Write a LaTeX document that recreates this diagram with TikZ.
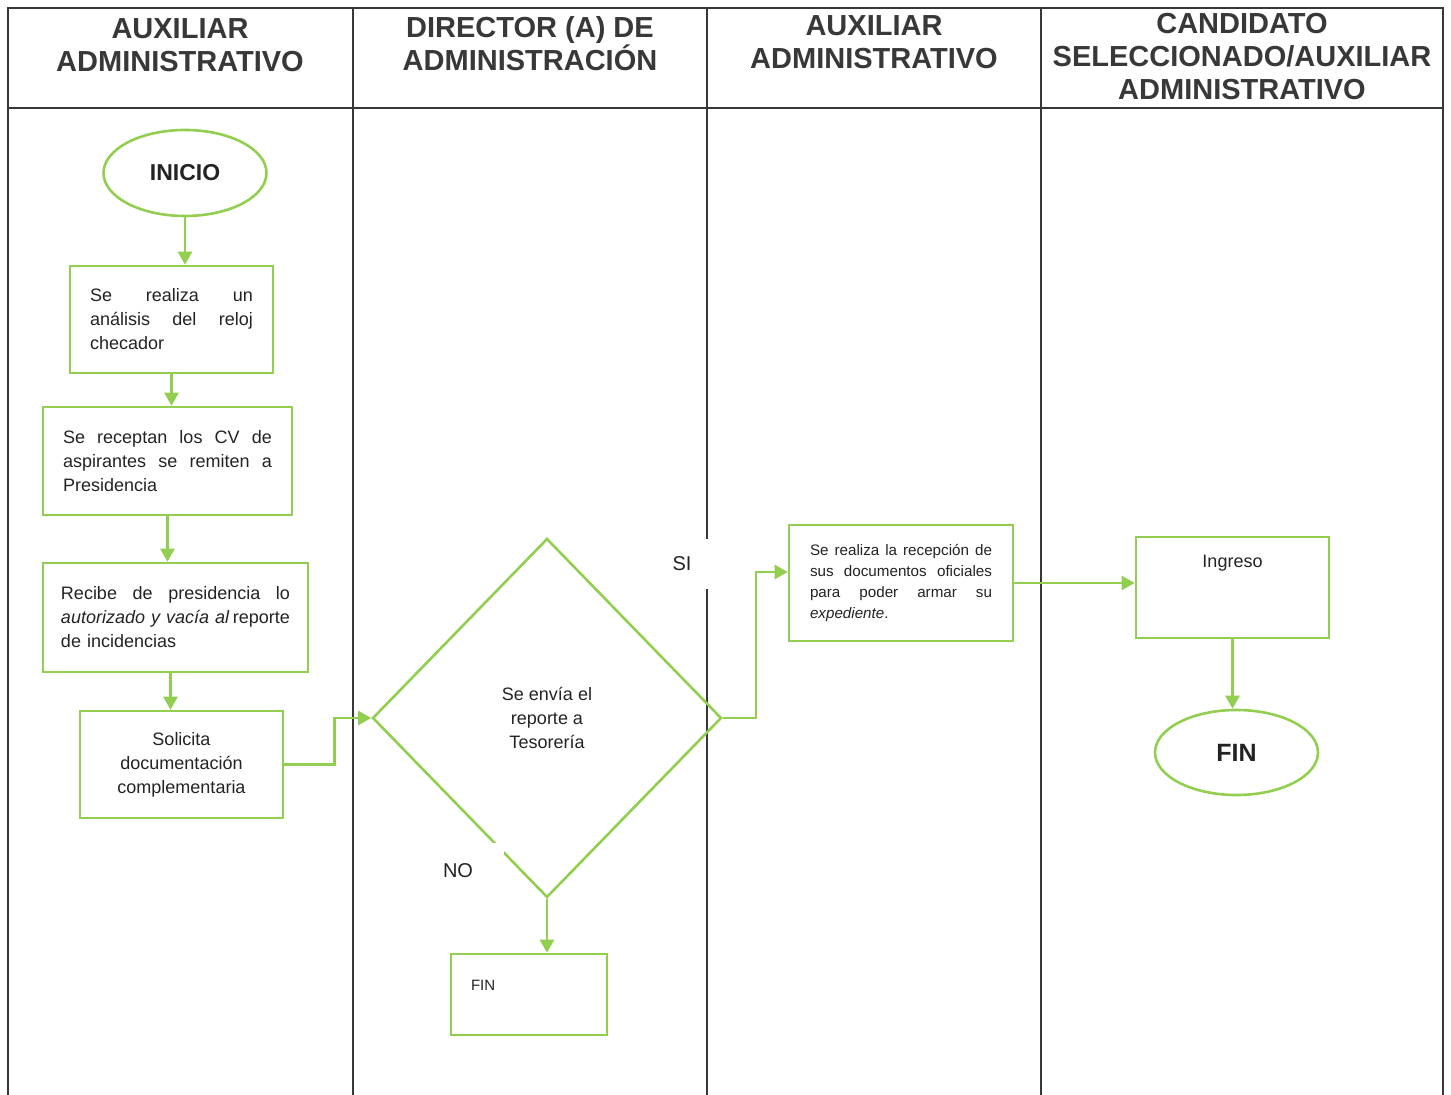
\documentclass[tikz,border=0pt]{standalone}
\usepackage{fontspec}
\setmainfont{Liberation Sans}
\usetikzlibrary{shapes.geometric,arrows.meta}

\definecolor{flowgreen}{RGB}{146,206,80}
\definecolor{laneline}{RGB}{55,55,55}
\definecolor{inktext}{RGB}{35,35,35}
\newcommand{\bodyfont}{\fontsize{9}{12}\selectfont}

\begin{document}
\begin{tikzpicture}[x=0.5pt, y=-0.5pt, >={Triangle[length=6.5pt,width=7pt]},
  stepbox/.style={draw=flowgreen, line width=1.3pt, text=inktext, font=\bodyfont, inner xsep=10pt, inner ysep=0pt},
  term/.style={ellipse, draw=flowgreen, line width=1.3pt, text=inktext, inner sep=0pt},
  flow/.style={draw=flowgreen, line width=1.3pt, ->},
  lanehead/.style={font=\bfseries\fontsize{14.5}{16.5}\selectfont, text=black!78, align=center, anchor=north, inner sep=0pt},
  tag/.style={fill=white, font=\fontsize{10}{12}\selectfont, text=inktext}]

  \useasboundingbox (0,0) rectangle (1451,1095);

  % Swimlane frame
  \draw[laneline, line width=0.8pt] (8,1095) -- (8,8) -- (1443,8) -- (1443,1095);
  \draw[laneline, line width=0.8pt] (8,108) -- (1443,108);
  \foreach \xl in {353,707,1041} {
    \draw[laneline, line width=0.8pt] (\xl,8) -- (\xl,1095);
  }

  % Lane headers
  \node[lanehead] (head1) at (180,18) {AUXILIAR\\ADMINISTRATIVO};
  \node[lanehead] (head2) at (530,16) {DIRECTOR (A) DE\\ADMINISTRACIÓN};
  \node[lanehead] (head3) at (874,15) {AUXILIAR\\ADMINISTRATIVO};
  \node[lanehead] (head4) at (1242,13) {CANDIDATO\\SELECCIONADO/AUXILIAR\\ADMINISTRATIVO};

  % 1. AUXILIAR ADMINISTRATIVO
  \node[term, minimum width=81.5pt, minimum height=43pt, font=\bfseries\fontsize{11.5}{14}\selectfont] (inicio) at (185,173) {INICIO};
  \node[stepbox, text width=81.5pt, minimum height=53.5pt, align=left] (analisis) at (171.5,319.5)
    {Se\hfill realiza\hfill un\\ análisis\hfill del\hfill reloj\\ checador};
  \node[stepbox, text width=104.5pt, minimum height=54pt, align=left] (receptan) at (167.5,461)
    {Se\hfill receptan\hfill los\hfill CV\hfill de\\ aspirantes\hfill se\hfill remiten\hfill a\\ Presidencia};
  \node[stepbox, inner xsep=9pt, text width=114.5pt, minimum height=54.5pt, align=left] (recibe) at (175.5,617.5)
    {Recibe\hfill de\hfill presidencia\hfill lo\\ \textit{autorizado y vacía al}\hfill reporte\\ de incidencias};
  \node[stepbox, text width=81.5pt, minimum height=53.5pt, align=center] (solicita) at (181.5,764.5)
    {Solicita\\ documentación\\ complementaria};

  % 2. DIRECTOR (A) DE ADMINISTRACION
  \node[diamond, draw=flowgreen, line width=1.3pt, minimum width=174.5pt, minimum height=179.5pt, inner sep=0pt,
    align=center, font=\bodyfont, text=inktext] (envio) at (547,718) {Se envía el\\ reporte a\\ Tesorería};
  \node[stepbox, font=\fontsize{7.5}{9}\selectfont, text width=58pt, align=left, text height=18pt, text depth=22.5pt]
    (finno) at (529,994.5) {FIN};

  % 3. AUXILIAR ADMINISTRATIVO
  \node[stepbox, font=\fontsize{7.6}{10.5}\selectfont, inner xsep=10.5pt, text width=91pt, minimum height=58pt, align=left]
    (recepcion) at (901,583)
    {Se\hfill realiza\hfill la\hfill recepción\hfill de\\ sus\hfill documentos\hfill oficiales\\ para\hfill poder\hfill armar\hfill su\\ \textit{expediente}.};

  % 4. CANDIDATO SELECCIONADO
  \node[stepbox, text width=76.5pt, align=center, text height=15.5pt, text depth=35pt] (ingreso) at (1232.5,587.5) {Ingreso};
  \node[term, minimum width=81.5pt, minimum height=42.5pt, font=\bfseries\fontsize{12.5}{15}\selectfont] (fin) at (1236.5,752.5) {FIN};

  % Decision labels
  \node[tag, minimum width=30pt, minimum height=25pt] (si) at (682,564) {SI};
  \node[tag, minimum width=46pt, minimum height=28pt] (no) at (458,871) {NO};

  % Connectors
  \draw[flow] (inicio.south) -- (inicio.south |- analisis.north);
  \draw[flow] (analisis.south) -- (analisis.south |- receptan.north);
  \draw[flow] (receptan.south) -- (receptan.south |- recibe.north);
  \draw[flow] ([xshift=-2.5pt]recibe.south) -- ([xshift=-2.5pt]recibe.south |- solicita.north);
  \draw[flow] (solicita.east) -- ++(50,0) |- (envio.west);
  \draw[flow] (envio.east) -- ++(33,0) |- ([yshift=5.5pt]recepcion.west);
  \draw[flow] (envio.south) -- (envio.south |- finno.north);
  \draw[flow] (recepcion.east) -- (recepcion.east -| ingreso.west);
  \draw[flow] (ingreso.south) -- (ingreso.south |- fin.north);

\end{tikzpicture}
\end{document}
